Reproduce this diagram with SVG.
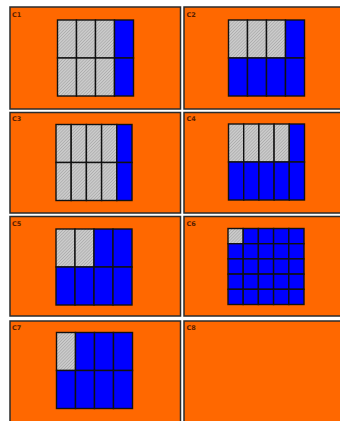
<svg xmlns="http://www.w3.org/2000/svg" width="340" height="421" viewBox="0 0 340 421">
<style>
.panel{fill:#ff6800;stroke:#2b2b2b;stroke-width:1.5}
.lbl{font-family:"DejaVu Sans","Liberation Sans",sans-serif;font-size:6.5px;fill:#5a1e00;font-weight:bold}
.g{fill:url(#hatch);stroke:#111;stroke-width:1.4}
.b{fill:#0000ff;stroke:#111;stroke-width:1.4}
</style>
<defs>
<pattern id="hatch" patternUnits="userSpaceOnUse" width="2.2" height="2.2" patternTransform="rotate(45)">
<rect width="2.2" height="2.2" fill="#cbcbcb"/>
<line x1="0" y1="0" x2="0" y2="2.2" stroke="#8a8a8a" stroke-width="0.7"/>
</pattern>
</defs>
<rect width="340" height="421" fill="#ffffff"/>
<g id="C1">
<rect class="panel" x="10" y="7" width="170.5" height="102"/>
<text class="lbl" x="12" y="17">C1</text>
<rect class="g" x="57.5" y="20" width="19" height="38"/><rect class="g" x="76.5" y="20" width="19" height="38"/><rect class="g" x="95.5" y="20" width="19" height="38"/><rect class="b" x="114.5" y="20" width="19" height="38"/>
<rect class="g" x="57.5" y="58" width="19" height="38"/><rect class="g" x="76.5" y="58" width="19" height="38"/><rect class="g" x="95.5" y="58" width="19" height="38"/><rect class="b" x="114.5" y="58" width="19" height="38"/>
</g>
<g id="C2">
<rect class="panel" x="184" y="7" width="158" height="102"/>
<text class="lbl" x="186.5" y="17">C2</text>
<rect class="g" x="228.5" y="20" width="19" height="38"/><rect class="g" x="247.5" y="20" width="19" height="38"/><rect class="g" x="266.5" y="20" width="19" height="38"/><rect class="b" x="285.5" y="20" width="19" height="38"/>
<rect class="b" x="228.5" y="58" width="19" height="38"/><rect class="b" x="247.5" y="58" width="19" height="38"/><rect class="b" x="266.5" y="58" width="19" height="38"/><rect class="b" x="285.5" y="58" width="19" height="38"/>
</g>
<g id="C3">
<rect class="panel" x="10" y="112.5" width="170.5" height="100.5"/>
<text class="lbl" x="12" y="121">C3</text>
<rect class="g" x="56" y="124.5" width="15.2" height="38"/><rect class="g" x="71.2" y="124.5" width="15.2" height="38"/><rect class="g" x="86.4" y="124.5" width="15.2" height="38"/><rect class="g" x="101.6" y="124.5" width="15.2" height="38"/><rect class="b" x="116.8" y="124.5" width="15.2" height="38"/>
<rect class="g" x="56" y="162.5" width="15.2" height="38"/><rect class="g" x="71.2" y="162.5" width="15.2" height="38"/><rect class="g" x="86.4" y="162.5" width="15.2" height="38"/><rect class="g" x="101.6" y="162.5" width="15.2" height="38"/><rect class="b" x="116.8" y="162.5" width="15.2" height="38"/>
</g>
<g id="C4">
<rect class="panel" x="184" y="112.5" width="158" height="100.5"/>
<text class="lbl" x="186.5" y="121">C4</text>
<rect class="g" x="228.5" y="124" width="15.2" height="38"/><rect class="g" x="243.7" y="124" width="15.2" height="38"/><rect class="g" x="258.9" y="124" width="15.2" height="38"/><rect class="g" x="274.1" y="124" width="15.2" height="38"/><rect class="b" x="289.3" y="124" width="15.2" height="38"/>
<rect class="b" x="228.5" y="162" width="15.2" height="38"/><rect class="b" x="243.7" y="162" width="15.2" height="38"/><rect class="b" x="258.9" y="162" width="15.2" height="38"/><rect class="b" x="274.1" y="162" width="15.2" height="38"/><rect class="b" x="289.3" y="162" width="15.2" height="38"/>
</g>
<g id="C5">
<rect class="panel" x="10" y="216.5" width="170.5" height="99.5"/>
<text class="lbl" x="12" y="225.5">C5</text>
<rect class="g" x="56" y="229" width="19" height="38"/><rect class="g" x="75" y="229" width="19" height="38"/><rect class="b" x="94" y="229" width="19" height="38"/><rect class="b" x="113" y="229" width="19" height="38"/>
<rect class="b" x="56" y="267" width="19" height="38"/><rect class="b" x="75" y="267" width="19" height="38"/><rect class="b" x="94" y="267" width="19" height="38"/><rect class="b" x="113" y="267" width="19" height="38"/>
</g>
<g id="C6">
<rect class="panel" x="184" y="216.5" width="158" height="99.5"/>
<text class="lbl" x="186.5" y="225.5">C6</text>
<g>
<rect class="g" x="228" y="228.5" width="15.2" height="15.2"/><rect class="b" x="243.2" y="228.5" width="15.2" height="15.2"/><rect class="b" x="258.4" y="228.5" width="15.2" height="15.2"/><rect class="b" x="273.6" y="228.5" width="15.2" height="15.2"/><rect class="b" x="288.8" y="228.5" width="15.2" height="15.2"/>
<rect class="b" x="228" y="243.7" width="15.2" height="15.2"/><rect class="b" x="243.2" y="243.7" width="15.2" height="15.2"/><rect class="b" x="258.4" y="243.7" width="15.2" height="15.2"/><rect class="b" x="273.6" y="243.7" width="15.2" height="15.2"/><rect class="b" x="288.8" y="243.7" width="15.2" height="15.2"/>
<rect class="b" x="228" y="258.9" width="15.2" height="15.2"/><rect class="b" x="243.2" y="258.9" width="15.2" height="15.2"/><rect class="b" x="258.4" y="258.9" width="15.2" height="15.2"/><rect class="b" x="273.6" y="258.9" width="15.2" height="15.2"/><rect class="b" x="288.8" y="258.9" width="15.2" height="15.2"/>
<rect class="b" x="228" y="274.1" width="15.2" height="15.2"/><rect class="b" x="243.2" y="274.1" width="15.2" height="15.2"/><rect class="b" x="258.4" y="274.1" width="15.2" height="15.2"/><rect class="b" x="273.6" y="274.1" width="15.2" height="15.2"/><rect class="b" x="288.8" y="274.1" width="15.2" height="15.2"/>
<rect class="b" x="228" y="289.3" width="15.2" height="15.2"/><rect class="b" x="243.2" y="289.3" width="15.2" height="15.2"/><rect class="b" x="258.4" y="289.3" width="15.2" height="15.2"/><rect class="b" x="273.6" y="289.3" width="15.2" height="15.2"/><rect class="b" x="288.8" y="289.3" width="15.2" height="15.2"/>
</g>
</g>
<g id="C7">
<rect class="panel" x="10" y="321" width="170.5" height="102"/>
<text class="lbl" x="12" y="330">C7</text>
<rect class="g" x="56.5" y="332.5" width="19" height="38"/><rect class="b" x="75.5" y="332.5" width="19" height="38"/><rect class="b" x="94.5" y="332.5" width="19" height="38"/><rect class="b" x="113.5" y="332.5" width="19" height="38"/>
<rect class="b" x="56.5" y="370.5" width="19" height="38"/><rect class="b" x="75.5" y="370.5" width="19" height="38"/><rect class="b" x="94.5" y="370.5" width="19" height="38"/><rect class="b" x="113.5" y="370.5" width="19" height="38"/>
</g>
<g id="C8">
<rect class="panel" x="184" y="321" width="158" height="102"/>
<text class="lbl" x="186.5" y="330">C8</text>
</g>
<g id="connectors"/>
</svg>
